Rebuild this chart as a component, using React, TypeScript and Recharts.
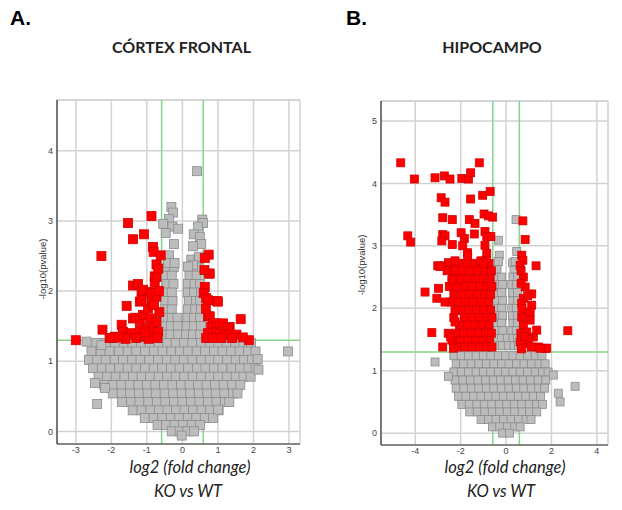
import React from 'react';
import { ScatterChart, Scatter, XAxis, YAxis, CartesianGrid, ReferenceLine } from 'recharts';

// umbrales: |log2FC| > log2(1.5), p < 0.05
const umbralFC = 0.585;
const umbralP = 1.301;

const ticksXA = [-3, -2, -1, 0, 1, 2, 3];
const ticksYA = [0, 1, 2, 3, 4];
const ticksXB = [-4, -2, 0, 2, 4];
const ticksYB = [0, 1, 2, 3, 4, 5];

type Par = [number, number];
type Fila = [number, number[]];

// ---------- CÓRTEX FRONTAL ----------
const rojosA: Par[] = [
  [-3.0, 1.3], [-2.28, 2.5], [-2.25, 1.45], [-1.95, 1.33], [-1.9, 1.35], [-1.71, 1.52], [-1.67, 1.38],
  [-1.67, 1.42], [-1.57, 1.79], [-1.53, 2.97], [-1.48, 1.38], [-1.43, 1.4], [-1.39, 2.74], [-1.39, 2.08],
  [-1.39, 1.61], [-1.34, 1.62], [-1.25, 2.1], [-1.2, 1.59], [-1.2, 1.45], [-1.2, 1.85], [-1.15, 1.99],
  [-1.15, 1.87], [-1.15, 1.35], [-1.11, 2.02], [-1.11, 1.66], [-1.08, 2.81], [-1.01, 1.47], [-0.97, 1.75],
  [-0.92, 1.99], [-0.92, 1.61], [-0.92, 1.38], [-0.87, 3.07], [-0.87, 1.85], [-0.87, 1.97], [-0.83, 2.63],
  [-0.83, 1.49], [-0.81, 2.56], [-0.78, 2.13], [-0.78, 2.21], [-0.73, 2.2], [-0.73, 1.92], [-0.73, 1.56],
  [-0.73, 2.38], [-0.68, 2.32], [-0.68, 1.42], [-0.61, 2.51], [-0.65, 1.7], [-0.7, 1.33], [-0.95, 1.32],
  [-1.6, 1.32], [-1.8, 1.34], [-2.05, 1.33], [-1.3, 1.33], [-1.05, 1.41], [-0.8, 1.8], [-0.66, 2.0],
  [0.74, 2.52], [0.63, 2.47], [0.74, 2.25], [0.77, 2.25], [0.63, 2.06], [0.6, 1.97], [0.67, 1.9],
  [0.72, 1.87], [0.97, 1.86], [1.0, 1.85], [0.72, 1.64], [0.77, 1.64], [0.86, 1.54], [0.95, 1.54],
  [1.14, 1.54], [1.33, 1.49], [1.28, 1.47], [1.64, 1.6], [0.81, 1.49], [0.95, 1.42], [1.05, 1.4],
  [1.19, 1.38], [1.33, 1.38], [1.52, 1.38], [1.87, 1.3], [0.72, 1.4], [0.67, 1.33], [0.62, 2.3],
  [0.66, 1.75], [1.1, 1.33], [1.4, 1.33], [0.85, 1.33], [1.7, 1.34],
];

const grisesSueltosA: Par[] = [
  [-0.31, 3.2], [-0.26, 3.12], [-0.38, 3.03], [-0.54, 2.96], [-0.28, 2.92], [-0.12, 2.89], [-0.47, 2.83],
  [-0.24, 2.67], [-0.38, 2.51], [-0.4, 2.4], [-0.22, 2.4], [0.41, 3.71], [0.56, 3.02], [0.58, 2.97],
  [0.44, 2.92], [0.32, 2.81], [0.49, 2.77], [0.53, 2.67], [0.3, 2.64], [0.47, 2.49], [0.3, 2.37],
  [0.16, 2.35], [-2.7, 1.28], [-2.28, 1.23], [-2.46, 0.69], [-2.4, 0.39], [-2.18, 0.62], [2.12, 1.03],
  [2.14, 0.88], [2.97, 1.14], [1.0, 0.31],
];

// filas: [y, x...]
const grisesFilasA: Fila[] = [
  [2.45, [-0.38, 0.25, 0.45]],
  [2.34, [-0.42, -0.24, 0.2, 0.38]],
  [2.22, [-0.48, -0.3, 0.2, 0.4]],
  [2.1, [-0.45, -0.25, 0.16, 0.34, 0.5]],
  [1.98, [-0.5, -0.3, 0.15, 0.33, 0.52]],
  [1.86, [-0.48, -0.28, 0.18, 0.38, 0.5]],
  [1.74, [-0.5, -0.3, 0.16, 0.36, 0.52]],
  [1.62, [-0.5, -0.3, -0.14, 0.14, 0.33, 0.5]],
  [1.5, [-0.52, -0.32, -0.13, 0.12, 0.32, 0.52]],
  [1.38, [-0.55, -0.34, -0.12, 0.1, 0.3, 0.5]],
  [1.26, [-2.42, -2.16, -1.9, -1.65, -1.41, -1.17, -0.92, -0.67, -0.43, -0.19, 0.05, 0.28, 0.52, 0.77, 1.01, 1.24, 1.49, 1.72, 1.93]],
  [1.14, [-2.56, -2.3, -2.05, -1.79, -1.54, -1.3, -1.05, -0.8, -0.56, -0.31, -0.07, 0.16, 0.4, 0.64, 0.89, 1.13, 1.37, 1.61, 1.85, 2.06]],
  [1.02, [-2.63, -2.4, -2.16, -1.91, -1.67, -1.42, -1.18, -0.93, -0.69, -0.44, -0.2, 0.04, 0.28, 0.53, 0.77, 1.01, 1.26, 1.5, 1.73, 1.96]],
  [0.9, [-2.52, -2.27, -2.03, -1.78, -1.54, -1.3, -1.05, -0.81, -0.57, -0.32, -0.08, 0.16, 0.41, 0.65, 0.89, 1.13, 1.38, 1.62, 1.86, 2.06]],
  [0.78, [-2.36, -2.12, -1.88, -1.63, -1.39, -1.15, -0.91, -0.67, -0.43, -0.19, 0.05, 0.29, 0.53, 0.77, 1.01, 1.25, 1.5, 1.72, 1.92]],
  [0.66, [-2.2, -1.96, -1.72, -1.48, -1.24, -1.0, -0.76, -0.52, -0.28, -0.04, 0.2, 0.44, 0.68, 0.92, 1.16, 1.4, 1.63]],
  [0.54, [-1.96, -1.71, -1.47, -1.22, -0.98, -0.74, -0.5, -0.26, -0.02, 0.22, 0.46, 0.7, 0.94, 1.18, 1.42, 1.55]],
  [0.42, [-1.7, -1.45, -1.21, -0.96, -0.72, -0.48, -0.24, 0.0, 0.24, 0.48, 0.72, 0.96, 1.2, 1.32]],
  [0.3, [-1.4, -1.15, -0.9, -0.66, -0.42, -0.18, 0.06, 0.3, 0.54, 0.78, 1.02]],
  [0.19, [-1.06, -0.81, -0.57, -0.33, -0.09, 0.15, 0.39, 0.63, 0.86]],
  [0.09, [-0.7, -0.46, -0.22, 0.02, 0.26, 0.5]],
  [0.0, [-0.3, -0.08, 0.14, 0.33]],
  [-0.06, [-0.02]],
];

// ---------- HIPOCAMPO ----------
const rojosSueltosB: Par[] = [
  [-4.64, 4.33], [-4.04, 4.07], [-3.13, 4.09], [-2.72, 4.12], [-2.47, 4.07], [-1.95, 4.08], [-1.66, 4.07],
  [-1.56, 4.17], [-1.18, 4.33], [-2.86, 3.77], [-2.69, 3.7], [-1.56, 3.75], [-1.03, 3.81], [-0.7, 3.87],
  [-2.79, 3.45], [-2.37, 3.42], [-1.62, 3.42], [-1.37, 3.36], [-0.97, 3.51], [-0.78, 3.48], [-0.59, 3.46],
  [-4.33, 3.16], [-4.2, 3.06], [-2.79, 3.18], [-2.69, 3.16], [-2.83, 3.08], [-2.37, 3.02], [-1.98, 3.21],
  [-1.84, 3.12], [-1.4, 3.19], [-0.93, 3.23], [-0.85, 3.15], [-0.67, 3.15], [-1.91, 3.0], [-1.7, 2.89],
  [-1.69, 2.85], [-0.93, 3.01], [-0.85, 2.88], [-0.88, 2.77], [-3.01, 2.68], [-2.86, 2.68], [-2.54, 2.73],
  [-2.25, 2.76], [-1.11, 2.76], [-1.0, 2.72],
  [-3.57, 2.26], [-2.98, 2.32], [-3.05, 2.16], [-2.69, 2.1], [-2.91, 2.67], [-3.27, 1.61], [-2.79, 1.38],
  [-2.25, 1.78], [-2.25, 1.97], [-2.39, 1.49], [-2.32, 1.36], [-2.39, 2.45], [-2.17, 2.34], [-2.25, 2.61],
  [-2.44, 1.54],
  [0.74, 3.4], [0.84, 3.1], [0.69, 2.85], [0.74, 2.77], [1.32, 2.68], [0.62, 2.69], [0.76, 2.5], [0.84, 2.34],
  [1.13, 2.23], [0.76, 2.16], [1.13, 2.05], [0.91, 1.92], [1.06, 1.81], [0.76, 1.73], [0.91, 1.62], [1.2, 1.54],
  [1.42, 1.38], [1.72, 1.36], [0.91, 1.44], [0.62, 1.46], [0.69, 1.86], [0.69, 2.08], [2.72, 1.64], [1.35, 1.65],
  [1.79, 1.36], [1.5, 1.36], [1.06, 1.94], [0.66, 2.4], [0.66, 2.6], [0.7, 2.0], [0.65, 1.6], [1.0, 1.5],
  [0.68, 1.35], [1.1, 1.38], [0.95, 2.2], [0.8, 1.55],
];

const rojosFilasB: Fila[] = [
  [2.72, [-2.45, -2.1, -1.75, -1.4, -1.05, -0.75]],
  [2.6, [-2.6, -2.3, -1.95, -1.6, -1.25, -0.9, -0.65]],
  [2.47, [-2.35, -2.0, -1.68, -1.32, -1.0, -0.7]],
  [2.35, [-2.5, -2.15, -1.82, -1.5, -1.15, -0.82, -0.62]],
  [2.22, [-2.3, -1.95, -1.62, -1.28, -0.95, -0.68]],
  [2.1, [-2.45, -2.1, -1.78, -1.45, -1.1, -0.78]],
  [1.97, [-2.0, -1.65, -1.32, -0.98, -0.68]],
  [1.85, [-2.3, -1.85, -1.52, -1.18, -0.85, -0.62]],
  [1.73, [-2.05, -1.7, -1.38, -1.05, -0.75]],
  [1.6, [-2.55, -2.2, -1.88, -1.55, -1.22, -0.9, -0.65]],
  [1.48, [-2.3, -2.0, -1.68, -1.35, -1.02, -0.72]],
  [1.38, [-2.15, -1.82, -1.5, -1.18, -0.85, -0.62]],
];

const grisesSueltosB: Par[] = [
  [0.44, 3.42], [-0.34, 3.09], [0.47, 2.91], [-0.3, 2.85], [-0.34, 2.75], [0.29, 2.73], [0.4, 2.75],
  [-3.13, 1.14], [-2.54, 0.91], [2.08, 0.93], [2.3, 0.64], [2.38, 0.5], [3.04, 0.75],
];

const grisesFilasB: Fila[] = [
  [2.62, [-0.4, 0.35]],
  [2.5, [-0.45, -0.2, 0.3, 0.5]],
  [2.38, [-0.4, -0.15, 0.25, 0.45]],
  [2.25, [-0.45, -0.2, 0.28, 0.5]],
  [2.12, [-0.4, -0.15, 0.3, 0.5]],
  [2.0, [-0.45, -0.2, 0.25, 0.45]],
  [1.88, [-0.4, -0.15, 0.28, 0.5]],
  [1.76, [-0.45, -0.2, 0.3, 0.5]],
  [1.64, [-0.4, -0.15, 0.25, 0.45]],
  [1.52, [-0.45, -0.2, 0.05, 0.3, 0.5]],
  [1.4, [-0.4, -0.15, 0.1, 0.35, 0.55]],
  [1.24, [-2.3, -1.98, -1.65, -1.32, -1.0, -0.67, -0.34, -0.02, 0.3, 0.62, 0.95, 1.28, 1.58]],
  [1.11, [-2.2, -1.87, -1.54, -1.2, -0.87, -0.54, -0.2, 0.13, 0.46, 0.79, 1.12, 1.45, 1.72]],
  [0.98, [-2.3, -1.98, -1.65, -1.32, -1.0, -0.67, -0.34, -0.02, 0.3, 0.62, 0.95, 1.28, 1.6, 1.85]],
  [0.85, [-2.25, -1.9, -1.57, -1.24, -0.9, -0.57, -0.24, 0.09, 0.42, 0.75, 1.08, 1.41, 1.75]],
  [0.72, [-2.2, -1.86, -1.53, -1.2, -0.87, -0.54, -0.21, 0.12, 0.45, 0.78, 1.11, 1.44, 1.7]],
  [0.59, [-2.1, -1.77, -1.44, -1.11, -0.78, -0.45, -0.12, 0.21, 0.54, 0.87, 1.2, 1.52]],
  [0.46, [-1.95, -1.62, -1.29, -0.96, -0.63, -0.3, 0.03, 0.36, 0.69, 1.02, 1.35, 1.6]],
  [0.34, [-1.6, -1.27, -0.94, -0.61, -0.28, 0.05, 0.38, 0.71, 1.04, 1.35]],
  [0.22, [-1.1, -0.77, -0.44, -0.11, 0.22, 0.55, 0.88, 1.1]],
  [0.1, [-0.6, -0.28, 0.05, 0.38, 0.62]],
  [0.0, [-0.15, 0.15]],
];

const aPuntos = (pares: Par[]) => pares.map(([x, y]) => ({ x, y }));
const deFilas = (filas: Fila[]) => filas.flatMap(([y, xs]) => xs.map((x) => ({ x, y })));

const cuadrado = (lado: number, relleno: string, borde: string) => (props: any) => {
  const { cx, cy } = props;
  if (cx == null || cy == null) return <g />;
  return (
    <rect x={cx - lado / 2} y={cy - lado / 2} width={lado} height={lado}
      fill={relleno} stroke={borde} strokeWidth={0.8} />
  );
};

const GRIS = '#bcbcbc';
const GRIS_BORDE = '#8c8c8c';
const ROJO = '#ff0000';
const ROJO_BORDE = '#d00000';
const VERDE = '#88d488';
const REJILLA = '#d2d2d2';

const tickStyle = { fontSize: 9, fill: '#444', fontFamily: 'Liberation Sans, Arial, sans-serif' };

interface PanelProps {
  grises: { x: number; y: number }[];
  rojos: { x: number; y: number }[];
  dominioX: [number, number];
  dominioY: [number, number];
  ticksX: number[];
  ticksY: number[];
  margen: { top: number; right: number; bottom: number; left: number };
  lado: number;
  izquierda: number;
}

const Volcan = ({ grises, rojos, dominioX, dominioY, ticksX, ticksY, margen, lado, izquierda }: PanelProps) => (
  <div style={{ position: 'absolute', left: izquierda, top: 0 }}>
    <ScatterChart width={311} height={470} margin={margen}>
      <CartesianGrid stroke={REJILLA} strokeWidth={1.5} />
      <XAxis type="number" dataKey="x" domain={dominioX} ticks={ticksX} interval={0} allowDataOverflow
        height={20} tickLine={false} tickSize={0} tickMargin={3} tick={tickStyle}
        axisLine={{ stroke: '#333', strokeWidth: 1.2 }} />
      <YAxis type="number" dataKey="y" domain={dominioY} ticks={ticksY} interval={0} allowDataOverflow
        width={20} tickLine={false} tickSize={0} tickMargin={4} tick={tickStyle}
        axisLine={{ stroke: '#333', strokeWidth: 1.2 }} />
      <ReferenceLine y={dominioY[1]} stroke={REJILLA} strokeWidth={1.5} />
      <Scatter data={grises} shape={cuadrado(lado, GRIS, GRIS_BORDE)} isAnimationActive={false} />
      <Scatter data={rojos} shape={cuadrado(lado, ROJO, ROJO_BORDE)} isAnimationActive={false} />
      <ReferenceLine x={-umbralFC} stroke={VERDE} strokeWidth={1.5} />
      <ReferenceLine x={umbralFC} stroke={VERDE} strokeWidth={1.5} />
      <ReferenceLine y={umbralP} stroke={VERDE} strokeWidth={1.5} />
    </ScatterChart>
  </div>
);

const FUENTE = "Lato, 'Open Sans', sans-serif";

export default function App() {
  return (
    <div style={{ position: 'absolute', left: 0, top: 0, width: 622, height: 510, background: '#fff' }}>
      <Volcan
        grises={[...deFilas(grisesFilasA), ...aPuntos(grisesSueltosA)]}
        rojos={aPuntos(rojosA)}
        dominioX={[-3.53, 3.31]}
        dominioY={[-0.18, 4.725]}
        ticksX={ticksXA}
        ticksY={ticksYA}
        margen={{ top: 100, right: 11, bottom: 6, left: 37 }}
        lado={9}
        izquierda={0}
      />
      <Volcan
        grises={[...deFilas(grisesFilasB), ...aPuntos(grisesSueltosB)]}
        rojos={[...deFilas(rojosFilasB), ...aPuntos(rojosSueltosB)]}
        dominioX={[-5.51, 4.49]}
        dominioY={[-0.19, 5.32]}
        ticksX={ticksXB}
        ticksY={ticksYB}
        margen={{ top: 101, right: 14, bottom: 5, left: 50 }}
        lado={8}
        izquierda={311}
      />
      <svg width={622} height={510} style={{ position: 'absolute', left: 0, top: 0, pointerEvents: 'none' }}>
        <text x={10} y={25} fontSize={21} fontWeight="bold" fontFamily="Liberation Sans, Arial, sans-serif">A.</text>
        <text x={346} y={25} fontSize={21} fontWeight="bold" fontFamily="Liberation Sans, Arial, sans-serif">B.</text>
        <text x={181.5} y={53} fontSize={16} fontWeight="bold" fontFamily={FUENTE} textAnchor="middle" fill="#222">CÓRTEX FRONTAL</text>
        <text x={492} y={53} fontSize={16} fontWeight="bold" fontFamily={FUENTE} textAnchor="middle" fill="#222">HIPOCAMPO</text>
        <text transform="translate(46,269) rotate(-90)" fontSize={9.5} textAnchor="middle" fill="#333"
          fontFamily="Liberation Sans, Arial, sans-serif">-log10(pvalue)</text>
        <text transform="translate(365,265) rotate(-90)" fontSize={9.5} textAnchor="middle" fill="#333"
          fontFamily="Liberation Sans, Arial, sans-serif">-log10(pvalue)</text>
        <text x={190} y={473} fontSize={16.5} fontStyle="italic" fontFamily={FUENTE} textAnchor="middle" fill="#222">log2 (fold change)</text>
        <text x={188} y={497} fontSize={16.5} fontStyle="italic" fontFamily={FUENTE} textAnchor="middle" fill="#222">KO vs WT</text>
        <text x={505} y={473} fontSize={16.5} fontStyle="italic" fontFamily={FUENTE} textAnchor="middle" fill="#222">log2 (fold change)</text>
        <text x={501} y={497} fontSize={16.5} fontStyle="italic" fontFamily={FUENTE} textAnchor="middle" fill="#222">KO vs WT</text>
      </svg>
    </div>
  );
}
